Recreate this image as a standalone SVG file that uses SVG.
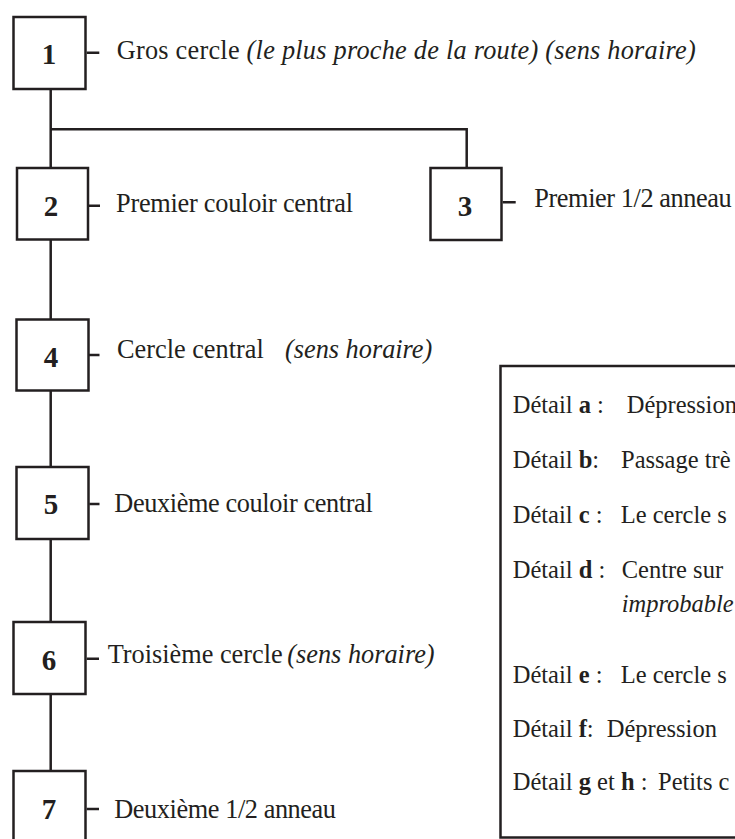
<svg xmlns="http://www.w3.org/2000/svg" width="735" height="839" viewBox="0 0 735 839">
<style>
.bg{fill:#ffffff}
.box{fill:#ffffff;stroke:#231f20;stroke-width:2.5}
.ln{fill:none;stroke:#231f20;stroke-width:2.5}
.num{font-family:"Liberation Serif","Times New Roman",serif;font-weight:bold;font-size:29px;fill:#231f20;text-anchor:middle}
.lbl{font-family:"Liberation Serif","Times New Roman",serif;font-size:26.3px;fill:#231f20}
.lg{font-family:"Liberation Serif","Times New Roman",serif;font-size:24.5px;fill:#231f20}
.it{font-style:italic}
.b{font-weight:bold}
</style>
<rect class="bg" x="0" y="0" width="735" height="839"/>
<g id="connectors">
<path class="ln" d="M50.7,90 V168 M50.7,129.3 H466.7 V168 M50.7,240 V320 M50.7,391 V467 M50.7,539 V622 M50.7,694 V771"/>
<path class="ln" d="M86.7,52.7 H99.3 M88.7,205.7 H100 M502.7,202.3 H515.7 M89,355 H99.5 M89.3,504 H99.5 M86.7,658.7 H99 M86.7,809 H99"/>
</g>
<g id="n1"><rect class="box" x="13.5" y="17" width="72" height="72"/><text class="num" x="49" y="64">1</text>
<text class="lbl" x="116.7" y="59.3" textLength="579">Gros cercle <tspan class="it">(le plus proche de la route) (sens horaire)</tspan></text></g>
<g id="n2"><rect class="box" x="17" y="168" width="71" height="71.5"/><text class="num" x="51" y="216">2</text>
<text class="lbl" x="116" y="211.7" textLength="237">Premier couloir central</text></g>
<g id="n3"><rect class="box" x="430.5" y="168" width="71" height="72"/><text class="num" x="465" y="215.7">3</text>
<text class="lbl" x="534.3" y="207.3" textLength="197.4">Premier 1/2 anneau</text></g>
<g id="n4"><rect class="box" x="16.5" y="319.5" width="72" height="71"/><text class="num" x="51" y="366.7">4</text>
<text class="lbl" x="117" y="358">Cercle central</text><text class="lbl it" x="285" y="358">(sens horaire)</text></g>
<g id="n5"><rect class="box" x="16.5" y="467" width="72" height="72"/><text class="num" x="51" y="514">5</text>
<text class="lbl" x="114.3" y="511.7" textLength="258.4">Deuxième couloir central</text></g>
<g id="n6"><rect class="box" x="13.5" y="622" width="72" height="72"/><text class="num" x="49" y="670">6</text>
<text class="lbl" x="107.7" y="663">Troisième cercle</text><text class="lbl it" x="287.3" y="663">(sens horaire)</text></g>
<g id="n7"><rect class="box" x="13.5" y="771" width="72" height="72"/><text class="num" x="49" y="819">7</text>
<text class="lbl" x="114.3" y="818.3" textLength="221.7">Deuxième 1/2 anneau</text></g>
<g id="legend">
<rect class="box" x="500.5" y="366" width="260" height="471.5"/>
<text class="lg" x="512.7" y="413">Détail <tspan class="b">a</tspan> :</text><text class="lg" x="626.7" y="413">Dépression</text>
<text class="lg" x="512.7" y="468">Détail <tspan class="b">b</tspan>:</text><text class="lg" x="621" y="468">Passage trè</text>
<text class="lg" x="512.7" y="523">Détail <tspan class="b">c</tspan> :</text><text class="lg" x="620.7" y="523">Le cercle s</text>
<text class="lg" x="512.7" y="578">Détail <tspan class="b">d</tspan> :</text><text class="lg" x="621.7" y="578">Centre sur</text>
<text class="lg it" x="621.7" y="612">improbable</text>
<text class="lg" x="512.7" y="682.7">Détail <tspan class="b">e</tspan> :</text><text class="lg" x="620.7" y="682.7">Le cercle s</text>
<text class="lg" x="512.7" y="736.7">Détail <tspan class="b">f</tspan>:</text><text class="lg" x="606.7" y="736.7">Dépression</text>
<text class="lg" x="512.7" y="790">Détail <tspan class="b">g</tspan> et <tspan class="b">h</tspan> :</text><text class="lg" x="658" y="790">Petits c</text>
</g>
</svg>
